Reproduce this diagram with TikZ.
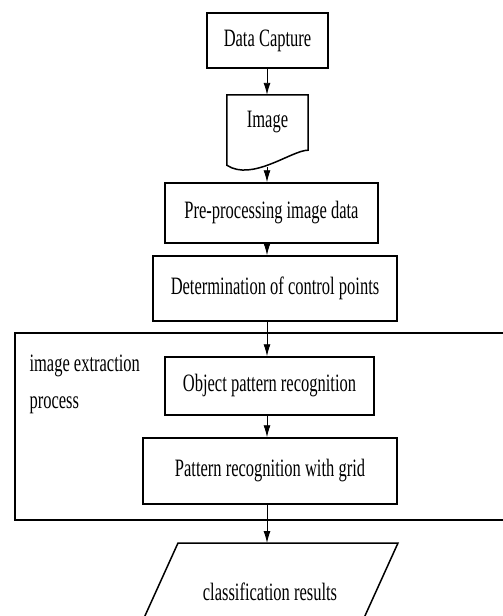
\documentclass[tikz,border=0pt]{standalone}
\usepackage{fontspec}
\setmainfont[FakeStretch=0.66]{Liberation Serif}
\usetikzlibrary{arrows.meta}

\begin{document}
\begin{tikzpicture}[x=1pt,y=-1pt,
  txt/.style={font=\fontsize{25}{37}\selectfont},
  box/.style={txt, draw, line width=1.5pt, inner sep=0pt},
  arr/.style={line width=0.9pt, -{Latex[length=12pt,width=7pt]}}]
\clip (0,0) rectangle (503,616);
\draw [line width=1.5pt] (15,333) rectangle (520,520);

\node [box, minimum width=121pt, minimum height=55pt] (cap) at (267.5,40.5) {Data Capture};
\node [txt, inner sep=0pt, minimum width=81pt, minimum height=55pt] (img) at (267.5,122.5) {Image};
\draw [line width=1.5pt] (img.north west) -- (img.north east) -- (img.south east)
  .. controls (292,150) and (252,182) .. ([yshift=-15pt]img.south west) -- cycle;
\coordinate (imgb) at (267,167);
\node [box, minimum width=213pt, minimum height=60pt] (pre) at (271.5,213) {Pre-processing image data};
\node [box, minimum width=244pt, minimum height=65pt] (det) at (275,288.5) {Determination of control points};

\node [txt, anchor=west, align=left] (lbl) at (26,384) {image extraction\\process};
\node [box, minimum width=209pt, minimum height=58pt] (obj) at (269.5,386) {Object pattern recognition};
\node [box, minimum width=254pt, minimum height=66pt] (grd) at (270,471) {Pattern recognition with grid};

\draw [line width=1.5pt] (178,543) -- (398,543) -- (354,640) -- (134,640) -- cycle;
\node [txt] (res) at (270,592) {classification results};
\coordinate (rest) at (267,543);

\draw [arr] (cap.south -| imgb) -- (img.north -| imgb);
\draw [arr] (imgb) -- (pre.north -| imgb);
\draw [arr] (pre.south -| imgb) -- (det.north -| imgb);
\draw [arr] (det.south -| imgb) -- (obj.north -| imgb);
\draw [arr] (obj.south -| imgb) -- (grd.north -| imgb);
\draw [arr] (grd.south -| imgb) -- (rest);
\end{tikzpicture}
\end{document}
